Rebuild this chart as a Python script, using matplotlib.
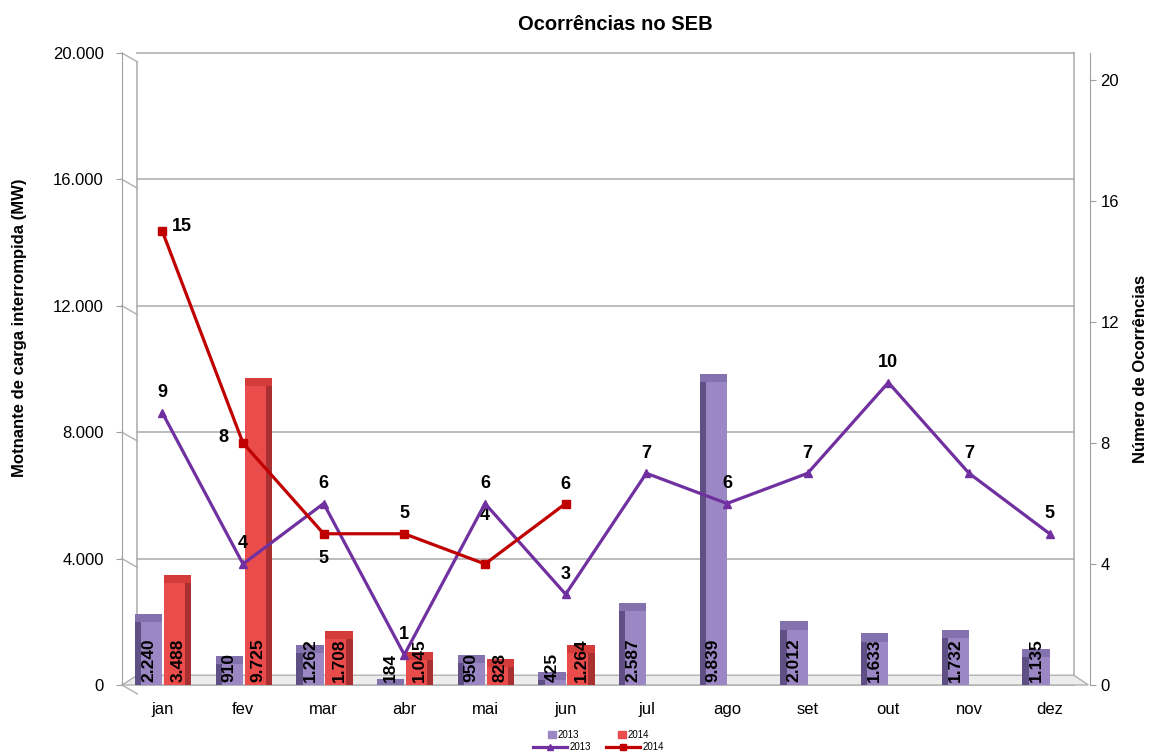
import matplotlib.pyplot as plt
from matplotlib.patches import Polygon, Patch
from matplotlib.lines import Line2D

plt.rcParams['font.family'] = ['Liberation Sans', 'DejaVu Sans']
NARROW = ['Liberation Sans Narrow', 'Liberation Sans', 'DejaVu Sans']

meses = ["jan", "fev", "mar", "abr", "mai", "jun", "jul", "ago", "set", "out", "nov", "dez"]
carga_2013 = [2240, 910, 1262, 184, 950, 425, 2587, 9839, 2012, 1633, 1732, 1135]
carga_2014 = [3488, 9725, 1708, 1045, 828, 1264]
ocorr_2013 = [9, 4, 6, 1, 6, 3, 7, 6, 7, 10, 7, 5]
ocorr_2014 = [15, 8, 5, 5, 4, 6]
# label offsets (pixels) for the 2014 line
desloc_2014 = [(20, 5), (-20, 6), (0, -25), (0, 20), (0, 49), (0, 19)]

roxo, roxo_esc, roxo_topo = "#9A87C4", "#5F4F85", "#8472AE"
verm, verm_esc, verm_topo = "#EA4B4B", "#A93030", "#D43C3C"
linha_roxo, linha_verm = "#7030A0", "#C00000"

fig = plt.figure(figsize=(11.51, 7.53), dpi=100)
ax = fig.add_axes([122/1151, 1-685/753, 968/1151, 632/753])
ax2 = ax.twinx()

x = list(range(len(meses)))
x14 = x[:len(carga_2014)]
w = 0.34

# back wall, gridlines and floor
for v in range(0, 20001, 4000):
    ax.plot([-0.31, 11.30], [v, v], color="#b0b0b0", lw=1.2, zorder=0.5, clip_on=False)
    ax.plot([-0.5, -0.31], [v, v - 280], color="#b0b0b0", lw=1, zorder=0.5, clip_on=False)
ax.plot([-0.31, -0.31], [300, 19720], color="#b0b0b0", lw=1.2, zorder=0.5, clip_on=False)
ax.plot([11.30, 11.30], [300, 20000], color="#b0b0b0", lw=1.2, zorder=0.5, clip_on=False)
ax.add_patch(Polygon([(-0.5, 0), (11.48, 0), (11.30, 310), (-0.31, 310)], closed=True,
                     facecolor="#ececec", edgecolor="#b0b0b0", lw=1, zorder=0.6, clip_on=False))

# columns: face, darker side strip and a shaded top
xb13 = [i - 0.17 for i in x]
xb14 = [i + 0.19 for i in x14]
topo = 260
ax.bar(xb13, carga_2013, width=w, color=roxo, zorder=2)
ax.bar([i - w/2 + 0.04 for i in xb13], carga_2013, width=0.08, color=roxo_esc, zorder=2.1)
ax.bar(xb14, carga_2014, width=w, color=verm, zorder=2)
ax.bar([i + w/2 - 0.04 for i in xb14], carga_2014, width=0.08, color=verm_esc, zorder=2.1)
ax.bar(xb13, [min(topo, v) for v in carga_2013], bottom=[max(v - topo, 0) for v in carga_2013],
       width=w, color=roxo_topo, zorder=2.2)
ax.bar(xb14, [min(topo, v) for v in carga_2014], bottom=[max(v - topo, 0) for v in carga_2014],
       width=w, color=verm_topo, zorder=2.2)

def fmt(v):
    return f"{v:,}".replace(",", ".")

for xi, v in zip(xb13, carga_2013):
    ax.text(xi, 80, fmt(v), rotation=90, ha="center", va="bottom", fontsize=12.5,
            fontweight="bold", family=NARROW, zorder=5)
for xi, v in zip(xb14, carga_2014):
    ax.text(xi, 80, fmt(v), rotation=90, ha="center", va="bottom", fontsize=12.5,
            fontweight="bold", family=NARROW, zorder=5)

ax.set_xlim(-0.5, 11.5)
ax.set_ylim(0, 20000)
ax.set_yticks(range(0, 20001, 4000))
ax.set_yticklabels([fmt(v) for v in range(0, 20001, 4000)], fontsize=12)
ax.set_xticks(x)
ax.set_xticklabels(meses, fontsize=12)
ax.tick_params(axis="x", length=0, pad=12)
ax.tick_params(axis="y", length=4, pad=9, color="#a0a0a0")
for s in ["top", "right", "bottom"]:
    ax.spines[s].set_visible(False)
ax.spines["left"].set_color("#a0a0a0")
ax.set_ylabel("Motnante de carga interrompida (MW)", fontsize=12, fontweight="bold",
              family=NARROW)
ax.yaxis.set_label_coords(-0.098, 0.565)

# occurrence lines on the secondary axis
ax2.plot(x, ocorr_2013, color=linha_roxo, lw=2.3, marker="^", ms=6, zorder=4)
ax2.plot(x14, ocorr_2014, color=linha_verm, lw=2.3, marker="s", ms=6, zorder=4)
for xi, v in zip(x, ocorr_2013):
    ax2.annotate(str(v), (xi, v), xytext=(0, 20), textcoords="offset pixels",
                 ha="center", va="center", fontsize=13, fontweight="bold", family=NARROW)
for xi, v, d in zip(x14, ocorr_2014, desloc_2014):
    ax2.annotate(str(v), (xi, v), xytext=d, textcoords="offset pixels",
                 ha="center", va="center", fontsize=13, fontweight="bold", family=NARROW)
ax2.set_ylim(0, 632/30.25)
ax2.set_yticks(range(0, 21, 4))
ax2.set_yticklabels([str(v) for v in range(0, 21, 4)], fontsize=12)
ax2.tick_params(axis="y", length=4, color="#a0a0a0")
for s in ["top", "left", "bottom"]:
    ax2.spines[s].set_visible(False)
ax2.spines["right"].set_color("#a0a0a0")
ax2.set_ylabel("Número de Ocorrências", fontsize=12, fontweight="bold", family=NARROW,
               rotation=90, labelpad=10)
ax2.set_zorder(ax.get_zorder() + 1)
ax2.patch.set_visible(False)

fig.text(0.535, 1-25/753, "Ocorrências no SEB", ha="center", va="center",
         fontsize=14.5, fontweight="bold")

leg1 = fig.legend(handles=[Patch(color=roxo, label="2013"), Patch(color=verm, label="2014")],
                  loc="center", bbox_to_anchor=(0.52, 1-735/753), ncol=2, frameon=False,
                  fontsize=7, handlelength=0.8, handleheight=0.8, columnspacing=4,
                  handletextpad=0.2, borderpad=0)
leg2 = fig.legend(handles=[Line2D([], [], color=linha_roxo, lw=2.3, marker="^", ms=5, label="2013"),
                           Line2D([], [], color=linha_verm, lw=2.3, marker="s", ms=5, label="2014")],
                  loc="center", bbox_to_anchor=(0.52, 1-747/753), ncol=2, frameon=False,
                  fontsize=7, handlelength=3.5, columnspacing=1.5, handletextpad=0.3, borderpad=0)

fig.savefig("out.png", dpi=100)
